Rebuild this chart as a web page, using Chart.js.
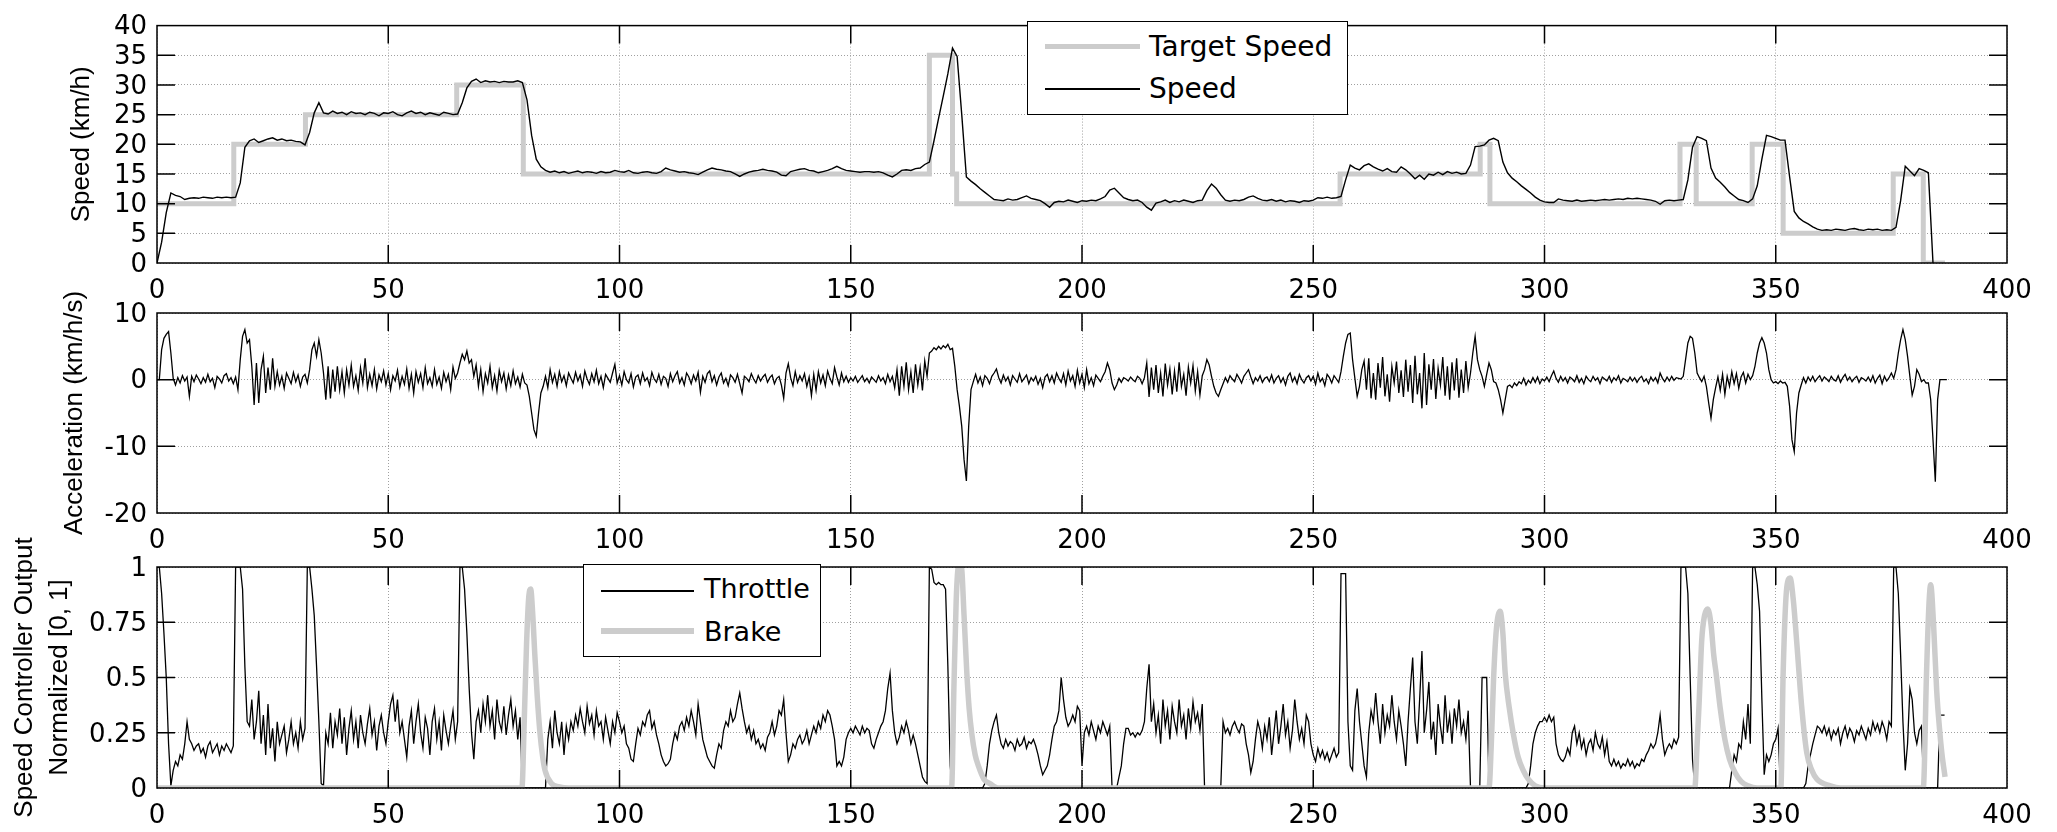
<!DOCTYPE html>
<html><head><meta charset="utf-8">
<script src="https://cdn.jsdelivr.net/npm/chart.js@4.4.0/dist/chart.umd.min.js"></script>
<style>
html,body{margin:0;padding:0;background:#fff;}
#wrap{position:relative;width:2057px;height:832px;overflow:hidden;font-family:"DejaVu Sans",sans-serif;}
canvas{position:absolute;left:0;}
.legend{position:absolute;background:#fff;border:1.5px solid #000;box-sizing:border-box;z-index:5;}
.sw{position:absolute;}
.lt{position:absolute;line-height:1;color:#000;white-space:nowrap;}
</style></head><body><div id="wrap">
<canvas id="c1" width="2057" height="310" style="top:0px"></canvas>
<canvas id="c2" width="2057" height="310" style="top:250px"></canvas>
<canvas id="c3" width="2057" height="332" style="top:500px"></canvas>
<div class="legend" style="left:1027px;top:21px;width:321px;height:94px;">
  <div class="sw" style="left:17px;top:22px;width:95px;height:5px;background:#cccccc;"></div>
  <div class="sw" style="left:17px;top:66px;width:95px;height:1.5px;background:#000;"></div>
  <div class="lt" style="left:121px;top:11px;font-size:28px;">Target Speed</div>
  <div class="lt" style="left:121px;top:53px;font-size:28px;">Speed</div>
</div>
<div class="legend" style="left:583px;top:564px;width:238px;height:93px;">
  <div class="sw" style="left:17px;top:25px;width:93px;height:1.5px;background:#000;"></div>
  <div class="sw" style="left:17px;top:63px;width:93px;height:6px;background:#cccccc;"></div>
  <div class="lt" style="left:120px;top:10px;font-size:27px;">Throttle</div>
  <div class="lt" style="left:120px;top:53px;font-size:27px;">Brake</div>
</div>
</div>
<script>
// ---------------- data ----------------
const speedStep = 1;     // s between speed samples
const fineStep = 0.5;    // s between acceleration / throttle samples
const timeTicks = [0, 50, 100, 150, 200, 250, 300, 350, 400];
const speedTicks = [0, 5, 10, 15, 20, 25, 30, 35, 40];
const accelTicks = [-20, -10, 0, 10];
const controlTicks = [0, 0.25, 0.5, 0.75, 1];

const targetTime  = [0, 16.6, 32.1, 64.8, 79.2, 167.0, 172.0, 172.9, 255.8, 286.1, 288.2, 329.3, 332.8, 344.9, 351.6, 375.4, 381.9, 386.6];
const targetSpeed = [10, 20, 25, 30, 15, 35, 15, 10, 15, 20, 10, 20, 10, 20, 5, 15, 0, 0];

const speed = [
0,3.5,8.5,11.8,11.4,11.2,10.7,10.9,11.0,10.9,
11.1,11.0,10.9,11.1,11.0,11.1,11.0,11.1,13.5,19.5,
20.6,20.9,20.3,20.6,20.9,21.1,20.7,20.9,20.6,20.7,
20.5,20.4,19.9,22.0,25.3,27.0,25.3,25.1,25.6,25.2,
25.4,25.0,25.5,25.2,25.3,25.0,25.4,25.2,24.8,25.3,
25.2,25.5,25.0,24.8,25.3,25.6,25.2,25.4,25.0,25.3,
25.1,24.9,25.4,25.2,25.0,25.1,27.0,29.5,30.6,31.0,
30.4,30.7,30.5,30.6,30.4,30.6,30.5,30.5,30.7,30.4,
27.5,21.5,17.5,16.2,15.6,15.3,15.5,15.2,15.4,15.1,
15.3,15.5,15.2,15.4,15.3,15.1,15.4,15.2,15.3,15.6,
15.4,15.3,15.6,15.2,15.1,15.3,15.4,15.2,15.1,15.4,
16.0,15.7,15.5,15.3,15.4,15.2,15.1,14.9,15.3,15.7,
16.0,15.8,15.7,15.5,15.4,15.0,14.6,15.0,15.3,15.5,
15.6,15.8,15.6,15.5,15.3,14.8,14.7,15.4,15.6,15.8,
15.9,15.6,15.5,15.2,15.4,15.6,15.9,16.3,15.9,15.6,
15.5,15.4,15.3,15.4,15.4,15.3,15.4,15.2,14.8,14.5,
15.0,15.6,15.7,15.6,15.9,16.0,16.6,17.0,20.6,24.4,
28.1,31.9,36.2,34.8,25.0,14.5,13.8,13.2,12.5,11.9,
11.3,10.7,10.6,10.5,10.8,10.6,10.7,11.0,11.3,10.9,
10.7,10.5,10.0,9.4,10.2,10.4,10.3,10.6,10.4,10.2,
10.5,10.4,10.6,10.5,10.8,11.2,12.3,12.6,11.8,11.0,
10.7,10.5,10.6,10.2,9.4,8.9,10.1,10.3,10.6,10.2,
10.5,10.3,10.6,10.4,10.2,10.5,10.6,12.2,13.3,12.6,
11.5,10.6,10.4,10.6,10.5,10.7,11.1,11.3,10.9,10.6,
10.5,10.7,10.4,10.6,10.3,10.5,10.4,10.2,10.5,10.4,
10.6,11.0,10.9,11.1,10.9,11.0,11.2,14.0,16.5,16.0,
15.7,16.4,16.7,16.2,15.8,15.5,15.9,15.4,15.3,16.2,
15.7,15.0,14.2,14.8,14.1,15.0,14.8,15.3,14.9,15.4,
15.1,15.3,15.0,15.1,16.5,19.6,19.7,19.9,20.7,21.0,
20.6,17.0,15.2,14.3,13.7,13.0,12.4,11.8,11.1,10.6,
10.3,10.2,10.2,10.8,10.6,10.5,10.4,10.6,10.4,10.5,
10.6,10.5,10.6,10.7,10.6,10.7,10.8,10.7,10.9,10.8,
10.9,10.8,10.7,10.6,10.4,9.9,10.5,10.6,10.5,10.6,
10.7,14.0,19.5,21.3,21.0,20.6,16.0,14.3,13.6,12.8,
11.9,11.3,10.7,10.5,10.2,10.8,13.0,17.5,21.5,21.3,
21.0,20.7,20.7,14.5,8.7,7.6,7.0,6.6,6.1,5.7,
5.5,5.6,5.5,5.7,5.6,5.5,5.7,5.8,5.6,5.5,
5.7,5.6,5.7,5.5,5.6,5.5,6.0,10.5,16.3,15.5,
14.7,15.9,15.6,15.2,0
];

const accel = [
0,0,4.5,6.2,6.8,7.2,4.0,0.2,-0.8,0.3,-0.5,0.6,-0.2,0.4,-2.5,0.5,-0.3,0.7,0.1,-0.6,
0.3,-0.4,0.8,-0.3,0.2,-1.2,0.5,0.1,-0.5,0.6,0.9,-0.2,0.3,-0.6,0.4,-1.5,3.0,6.5,7.5,5.5,
6.0,2.0,-3.8,2.5,-3.5,1.5,3.5,-2.0,1.8,-1.5,3.2,-1.0,1.2,-0.8,0.5,-1.3,1.0,0.2,-0.6,1.1,
-0.3,0.7,-1.0,0.4,0.8,-0.5,1.5,4.5,5.5,3.5,6.0,4.0,1.0,-3.0,2.0,-2.8,1.5,-1.8,2.0,-1.5,
1.2,-2.0,1.5,-0.8,2.2,-1.0,0.6,-1.6,1.8,-0.5,3.2,-1.2,0.8,-0.9,1.5,-1.4,0.7,-0.3,1.3,-0.8,
0.9,-1.5,0.6,-0.2,1.4,-1.1,0.5,-0.7,1.6,-1.3,0.8,-2.0,1.2,-0.4,0.9,-1.2,1.8,-0.6,0.3,-1.0,
1.5,-0.7,0.4,-1.3,1.1,-0.3,0.8,-1.5,1.9,0.2,1.0,2.5,3.8,3.0,4.3,2.5,3.0,0.5,2.2,-1.0,
1.5,-1.8,0.9,-0.5,2.0,-1.2,0.6,-1.7,1.4,-0.3,1.0,-1.4,0.7,-0.9,1.3,-0.6,0.4,-1.1,0.8,-0.5,
-0.8,-2.5,-5.0,-7.5,-8.5,-5.0,-2.0,-1.0,0.5,-1.2,1.5,-0.4,0.8,-1.0,1.2,-0.3,0.6,-0.9,1.0,0.2,
-0.5,1.1,-0.2,0.7,-1.0,1.3,0.1,-0.7,0.9,-0.3,1.4,-0.6,0.5,-1.2,0.8,0.2,-0.4,1.0,2.3,-0.5,
0.6,-0.8,1.2,0.0,-0.5,0.9,-1.1,0.4,0.7,-0.6,1.0,-0.2,0.3,-0.9,1.1,0.1,-0.4,0.8,-0.7,0.5,
0.2,-1.0,0.9,-0.3,0.6,1.2,-0.5,0.3,-0.8,1.0,0.4,-0.6,0.7,-0.2,1.1,-1.9,0.5,-0.4,0.9,1.3,
-0.3,0.6,-0.8,0.4,1.0,-0.5,0.2,-0.9,0.7,0.3,-0.4,0.8,-0.6,-2.0,0.5,0.2,-0.3,0.9,0.1,-0.5,
0.6,-0.2,0.4,0.8,-0.4,0.3,0.7,-0.6,0.2,0.5,-0.8,-2.8,1.0,2.4,0.3,-0.9,1.2,-0.4,0.6,-0.2,
0.9,-1.0,0.4,-2.4,0.8,-1.6,1.2,-0.5,0.7,-0.9,1.3,0.2,-0.6,1.8,0.4,-0.8,1.0,-0.3,0.5,-0.4,
0.3,-0.2,0.5,-0.4,0.1,0.6,-0.3,0.2,-0.5,0.4,0.0,-0.4,0.6,-0.2,0.3,-0.6,0.8,-0.3,0.5,-1.2,
1.5,-2.4,2.0,-1.0,2.6,-1.5,1.2,-2.0,2.3,-0.8,1.8,-1.6,2.8,0.5,4.0,4.3,4.8,4.5,5.0,4.6,
5.1,4.8,5.3,4.5,4.7,2.0,-1.5,-4.0,-7.0,-12.0,-15.2,-7.0,-1.5,-0.3,0.8,-0.5,0.4,-0.9,0.6,0.2,
-0.6,0.5,1.0,1.6,0.3,-0.5,0.7,-0.2,0.4,-0.8,0.6,0.1,-0.4,0.9,-0.3,0.2,0.7,-0.6,0.3,-0.2,
0.5,-0.7,0.2,-1.2,0.4,0.8,-0.3,0.6,-0.5,1.0,0.2,-0.4,0.9,-0.8,1.3,-0.2,0.6,-1.0,1.4,-0.5,
0.8,-1.2,1.5,-0.6,0.3,-0.9,0.7,0.2,-0.3,0.5,1.2,2.5,1.5,-0.5,-1.5,-0.8,0.2,-0.4,0.3,0.1,
-0.2,0.4,0.0,-0.3,0.5,0.2,-0.6,0.3,2.5,-2.6,1.8,-1.5,2.2,-2.0,1.0,-2.5,2.4,-0.8,1.6,-2.2,
1.3,-1.8,2.6,-1.0,0.8,-2.4,1.9,-0.5,2.1,-1.7,1.2,-2.3,0.6,1.5,3.0,2.2,0.5,-1.0,-2.0,-2.5,
-1.5,-0.6,0.3,-0.4,0.6,0.1,-0.3,0.8,0.2,-0.5,0.5,1.0,1.5,0.4,-0.6,0.3,-0.2,0.6,-0.4,0.2,
0.4,-0.3,0.7,-0.5,0.2,0.6,-0.4,0.3,-0.8,0.5,1.0,-0.3,0.4,-0.6,0.8,0.0,-0.5,0.3,0.6,-0.2,
0.5,-0.7,1.0,-0.3,0.2,-0.9,0.8,0.3,-0.5,0.6,0.1,-0.4,1.2,3.5,5.5,6.8,7.0,3.0,0.2,-2.5,
-1.0,1.5,2.8,-1.5,3.2,-2.8,1.0,-3.0,2.5,-1.2,3.4,-2.5,0.8,-3.3,2.0,-0.5,2.7,-2.0,1.4,-2.6,
3.0,-1.8,2.2,-3.5,3.6,-2.2,1.0,-4.3,4.0,-3.8,2.3,-1.5,3.1,-2.9,1.7,-0.8,3.4,-2.4,2.0,-3.0,
2.6,-1.6,3.2,-2.7,1.5,-2.0,2.8,-1.2,1.0,4.0,6.5,3.0,1.5,0.5,-1.0,0.8,2.5,1.5,-0.3,-0.5,
-1.5,-3.0,-5.0,-3.0,-1.0,-0.8,-1.2,-0.5,-0.9,-0.3,-0.6,0.2,-0.8,-0.1,-0.5,0.3,-0.4,0.4,-0.6,0.1,
-0.2,0.4,-0.3,0.6,1.3,0.2,-0.4,0.5,-0.2,0.3,-0.5,0.4,0.1,-0.3,0.6,-0.4,0.2,-0.6,0.5,0.0,
-0.3,0.5,-0.1,0.3,-0.6,0.4,0.1,-0.2,0.5,-0.4,0.3,-0.1,0.6,-0.5,0.2,0.0,-0.3,0.4,-0.2,0.3,
-0.4,0.2,0.5,-0.3,0.1,-0.6,0.4,-0.2,0.3,-0.5,1.0,0.2,-0.3,0.4,-0.2,0.5,-0.1,0.3,0.2,0.1,
0.5,3.0,5.5,6.5,6.2,4.0,1.0,0.3,-0.3,0.5,-1.0,-3.5,-5.8,-3.0,-1.2,0.4,-1.6,0.8,-2.2,0.5,
-1.0,1.2,-0.6,0.9,-1.3,0.4,1.1,-0.5,0.8,0.0,0.6,2.0,4.0,5.5,6.3,5.5,4.0,1.5,0.0,-0.5,
-0.3,-0.6,-0.2,-0.5,-0.4,-1.0,-4.0,-9.0,-10.8,-5.0,-2.0,-0.8,0.3,-0.5,0.4,-0.2,0.5,-0.3,0.2,0.6,
-0.2,0.4,0.1,-0.3,0.5,0.0,-0.2,0.6,-0.4,0.3,0.8,-0.1,0.4,-0.3,0.2,0.5,-0.4,0.3,0.1,-0.2,
0.4,-0.3,0.6,-0.5,0.2,0.7,-0.6,0.5,-0.2,0.3,1.0,0.2,1.5,4.0,6.0,7.5,6.0,3.5,0.5,-2.3,
-1.0,1.5,0.8,-0.3,0.0,-0.5,-0.5,-3.0,-9.0,-15.3,-3.0,0,0,0,0
];

const throttle = [
1.0,1.0,0.88,0.7,0.5,0.2,0.01,0.08,0.12,0.1,0.15,0.13,0.2,0.3,0.22,0.2,0.17,0.19,0.2,0.16,
0.18,0.14,0.19,0.21,0.16,0.18,0.2,0.15,0.19,0.17,0.2,0.18,0.16,0.19,1.0,1.0,1.0,0.9,0.55,0.3,
0.28,0.4,0.22,0.3,0.44,0.2,0.33,0.15,0.38,0.18,0.27,0.12,0.3,0.2,0.24,0.28,0.16,0.22,0.3,0.2,
0.25,0.18,0.3,0.22,0.27,1.0,1.0,0.9,0.78,0.55,0.3,0.02,0.01,0.25,0.2,0.34,0.18,0.3,0.24,0.36,
0.2,0.32,0.15,0.27,0.35,0.22,0.3,0.18,0.33,0.25,0.2,0.29,0.36,0.24,0.3,0.17,0.28,0.33,0.25,0.2,
0.3,0.38,0.42,0.3,0.4,0.25,0.3,0.22,0.14,0.28,0.35,0.2,0.3,0.38,0.25,0.18,0.32,0.27,0.15,0.3,
0.36,0.22,0.3,0.17,0.33,0.26,0.2,0.28,0.35,0.22,0.3,1.0,1.0,0.9,0.7,0.45,0.25,0.13,0.3,0.35,
0.25,0.38,0.3,0.42,0.28,0.35,0.22,0.4,0.3,0.26,0.37,0.24,0.33,0.4,0.28,0.35,0.22,0.32,0,0,
0,0,0,0,0,0,0,0,0,0.22,0.3,0.18,0.35,0.25,0.2,0.3,0.15,0.28,0.22,0.3,
0.26,0.33,0.28,0.36,0.3,0.25,0.37,0.29,0.33,0.24,0.35,0.28,0.3,0.22,0.32,0.26,0.2,0.3,0.25,0.34,
0.3,0.25,0.28,0.2,0.18,0.13,0.12,0.2,0.27,0.24,0.3,0.28,0.33,0.35,0.27,0.3,0.24,0.2,0.15,0.12,
0.1,0.11,0.13,0.2,0.25,0.22,0.28,0.3,0.26,0.32,0.28,0.35,0.3,0.24,0.38,0.3,0.22,0.18,0.14,0.12,
0.1,0.09,0.15,0.2,0.18,0.26,0.3,0.28,0.35,0.3,0.32,0.38,0.43,0.36,0.3,0.25,0.28,0.22,0.26,0.2,
0.22,0.18,0.2,0.17,0.23,0.25,0.3,0.24,0.28,0.35,0.33,0.4,0.25,0.12,0.15,0.2,0.18,0.22,0.24,0.2,
0.22,0.26,0.2,0.24,0.28,0.25,0.3,0.27,0.33,0.3,0.35,0.33,0.28,0.22,0.1,0.12,0.1,0.14,0.22,0.25,
0.27,0.25,0.28,0.26,0.24,0.28,0.25,0.27,0.26,0.2,0.18,0.22,0.25,0.28,0.3,0.35,0.45,0.52,0.35,0.25,
0.2,0.23,0.28,0.25,0.3,0.26,0.2,0.24,0.2,0.15,0.1,0.05,0.03,0.02,1.0,0.99,0.93,0.92,0.93,0.92,
0.92,0.9,0.55,0.1,0,0,0,0,0,0,0,0,0,0,0,0,0,0,0.02,0.1,
0.2,0.26,0.3,0.33,0.25,0.2,0.18,0.22,0.19,0.21,0.2,0.17,0.22,0.19,0.2,0.23,0.18,0.21,0.2,0.22,
0.19,0.15,0.1,0.06,0.08,0.1,0.15,0.22,0.28,0.3,0.35,0.5,0.4,0.32,0.28,0.3,0.33,0.3,0.37,0.35,
0.1,0.25,0.28,0.24,0.3,0.26,0.22,0.28,0.25,0.3,0.27,0.24,0.28,0,0,0,0.05,0.1,0.2,0.27,
0.27,0.24,0.25,0.23,0.25,0.24,0.26,0.3,0.45,0.56,0.3,0.38,0.25,0.33,0.2,0.4,0.28,0.35,0.22,0.37,
0.3,0.25,0.4,0.28,0.33,0.22,0.36,0.27,0.39,0.3,0.34,0.26,0.38,0,0,0,0,0,0,0,
0,0.3,0.25,0.27,0.24,0.28,0.3,0.27,0.25,0.29,0.28,0.2,0.15,0.07,0.12,0.22,0.3,0.26,0.18,0.28,
0.22,0.32,0.15,0.25,0.35,0.2,0.28,0.38,0.24,0.3,0.18,0.26,0.4,0.3,0.22,0.27,0.2,0.33,0.3,0.2,
0.15,0.12,0.18,0.14,0.17,0.13,0.16,0.12,0.15,0.18,0.14,0.16,0.97,0.97,0.97,0.3,0.1,0.08,0.35,0.45,
0.3,0.2,0.1,0.05,0.25,0.35,0.3,0.43,0.3,0.2,0.38,0.25,0.33,0.28,0.42,0.3,0.22,0.35,0.28,0.2,
0.1,0.3,0.45,0.59,0.3,0.2,0.4,0.62,0.25,0.35,0.48,0.22,0.3,0.15,0.38,0.28,0.2,0.42,0.25,0.33,
0.2,0.36,0.28,0.4,0.25,0.3,0.22,0.35,0,0,0,0,0,0.5,0.5,0.5,0,0,0,0,
0,0,0,0,0,0,0,0,0,0,0,0,0,0.02,0.1,0.2,0.25,0.28,0.3,0.3,
0.32,0.3,0.33,0.3,0.32,0.2,0.15,0.13,0.12,0.14,0.18,0.15,0.25,0.28,0.2,0.25,0.18,0.22,0.15,0.2,
0.22,0.17,0.25,0.2,0.18,0.23,0.15,0.21,0.12,0.1,0.13,0.1,0.12,0.09,0.11,0.1,0.13,0.1,0.12,0.09,
0.11,0.1,0.13,0.12,0.15,0.17,0.2,0.18,0.2,0.25,0.33,0.22,0.15,0.18,0.2,0.18,0.22,0.2,0.23,1.0,
1.0,1.0,0.88,0.5,0.13,0,0,0,0,0,0,0,0,0,0,0,0,0,0,0,
0,0.08,0.15,0.12,0.2,0.18,0.3,0.22,0.38,0.2,1.0,1.0,0.92,0.8,0.4,0.06,0.15,0.12,0.15,0.2,
0.22,0.27,0,0,0,0,0,0,0,0,0,0,0,0.02,0.1,0.15,0.2,0.24,0.28,0.27,
0.25,0.28,0.24,0.27,0.22,0.26,0.24,0.27,0.2,0.25,0.28,0.23,0.27,0.25,0.21,0.26,0.24,0.28,0.25,0.22,
0.27,0.24,0.3,0.26,0.29,0.25,0.3,0.27,0.22,0.3,0.28,1.0,1.0,0.88,0.6,0.3,0.08,0.2,0.45,0.4,
0.25,0.2,0.26,0.28,0,0,0,0,0,0,0,0.33,0.33,0.33
];

const brakeTime = [0,78.9,79.4,79.9,80.4,80.8,81.2,81.7,82.2,82.8,83.4,83.9,85.3,87,89,
171.8,172.3,172.8,173.3,173.9,174.5,175.1,175.6,176.2,176.9,177.6,178.8,180.1,182,
288,288.5,289,289.6,290.4,291,291.5,292.4,293.3,294.3,295.4,296.5,298,300,
332.5,333,333.4,334,334.6,335.3,336,336.6,337.1,338,339,340,341.2,342.5,344,346,
351.1,351.6,352.4,353.1,353.8,354.5,355.6,356.7,357.8,358.9,361.8,364,
381.9,382.6,383.1,383.5,384.1,384.8,385.4,385.9,386.6];
const brakeValue = [0,0,0.3,0.65,0.87,0.9,0.8,0.6,0.42,0.25,0.14,0.08,0.02,0.005,0,
0,0.45,0.85,1.0,1.0,0.78,0.52,0.36,0.24,0.15,0.1,0.04,0.02,0,
0,0.2,0.5,0.72,0.8,0.7,0.52,0.36,0.24,0.14,0.08,0.04,0.01,0,
0,0.2,0.37,0.67,0.78,0.81,0.74,0.6,0.52,0.36,0.22,0.13,0.07,0.03,0.01,0,
0,0.52,0.91,0.95,0.85,0.67,0.37,0.16,0.08,0.04,0.01,0,
0,0.52,0.82,0.92,0.75,0.44,0.27,0.16,0.05];

// ---------------- helpers ----------------
const pts = (vals, step) => vals.map((v, i) => ({x: i * step, y: v}));
const pairs = (xs, ys) => xs.map((x, i) => ({x: x, y: ys[i]}));
const FONT = 'DejaVu Sans';

const framePlugin = {
  id: 'frame',
  afterDraw(chart) {
    const {ctx, chartArea: a, scales: {x, y}} = chart;
    const L = 18;
    ctx.save();
    ctx.setLineDash([]);
    ctx.strokeStyle = '#000';
    ctx.lineWidth = 1.5;
    ctx.beginPath();
    y.ticks.forEach(t => {
      const p = y.getPixelForValue(t.value);
      if (p <= a.top + 1 || p >= a.bottom - 1) return;
      ctx.moveTo(a.left, p); ctx.lineTo(a.left + L, p);
      ctx.moveTo(a.right, p); ctx.lineTo(a.right - L, p);
    });
    x.ticks.forEach(t => {
      const p = x.getPixelForValue(t.value);
      if (p <= a.left + 1 || p >= a.right - 1) return;
      ctx.moveTo(p, a.bottom); ctx.lineTo(p, a.bottom - L);
      ctx.moveTo(p, a.top); ctx.lineTo(p, a.top + L);
    });
    ctx.stroke();
    ctx.strokeRect(a.left, a.top, a.right - a.left, a.bottom - a.top);
    ctx.restore();
  }
};

function makeChart(id, o) {
  return new Chart(document.getElementById(id), {
    type: 'line',
    data: {datasets: o.datasets},
    options: {
      responsive: false, animation: false, events: [],
      layout: {padding: {top: o.padTop, right: 50, left: 0, bottom: 0}},
      plugins: {legend: {display: false}, tooltip: {enabled: false}},
      elements: {point: {radius: 0}},
      scales: {
        x: {
          type: 'linear', min: 0, max: 400,
          afterBuildTicks: s => { s.ticks = timeTicks.map(v => ({value: v})); },
          ticks: {font: {family: FONT, size: 26}, color: '#000', padding: 13, maxRotation: 0, autoSkip: false,
                  callback: v => String(v)},
          grid: {color: '#a0a0a0', lineWidth: 1, drawTicks: false},
          border: {display: false, dash: [1, 2]},
          afterFit: s => { s.height = o.xH; }
        },
        y: {
          type: 'linear', min: o.yMin, max: o.yMax,
          afterBuildTicks: s => { s.ticks = o.yTicks.map(v => ({value: v})); },
          ticks: {font: {family: FONT, size: 26}, color: '#000', padding: 10, labelOffset: 2, autoSkip: false,
                  callback: v => String(v)},
          grid: {color: '#a0a0a0', lineWidth: 1, drawTicks: false},
          border: {display: false, dash: [1, 2]},
          title: {display: true, text: o.title, color: '#000',
                  font: {family: 'Liberation Sans', size: 26, lineHeight: o.titleLH},
                  padding: {top: o.titlePad, bottom: 0}},
          afterFit: s => { s.width = 157; }
        }
      }
    },
    plugins: [framePlugin]
  });
}

makeChart('c1', {
  padTop: 21, xH: 47, yMin: 0, yMax: 40, yTicks: speedTicks,
  title: 'Speed (km/h)', titlePad: 66, titleLH: 1.2,
  datasets: [
    {data: pts(speed, speedStep), borderColor: '#000', borderWidth: 1.4, pointRadius: 0, fill: false},
    {data: pairs(targetTime, targetSpeed), borderColor: '#cccccc', borderWidth: 5, stepped: 'before', pointRadius: 0, fill: false}
  ]
});

makeChart('c2', {
  padTop: 63, xH: 47, yMin: -20, yMax: 10, yTicks: accelTicks,
  title: 'Acceleration (km/h/s)', titlePad: 59, titleLH: 1.2,
  datasets: [
    {data: pts(accel, fineStep), borderColor: '#000', borderWidth: 1.3, pointRadius: 0, fill: false}
  ]
});

makeChart('c3', {
  padTop: 67, xH: 44, yMin: 0, yMax: 1, yTicks: controlTicks,
  title: ['Speed Controller Output', 'Normalized [0, 1]'], titlePad: 7.5, titleLH: 1.35,
  datasets: [
    {data: pairs(brakeTime, brakeValue), borderColor: '#cccccc', borderWidth: 5.5, cubicInterpolationMode: 'monotone', pointRadius: 0, fill: false},
    {data: pts(throttle, fineStep), borderColor: '#000', borderWidth: 1.3, pointRadius: 0, fill: false}
  ]
});
</script>
</body></html>
